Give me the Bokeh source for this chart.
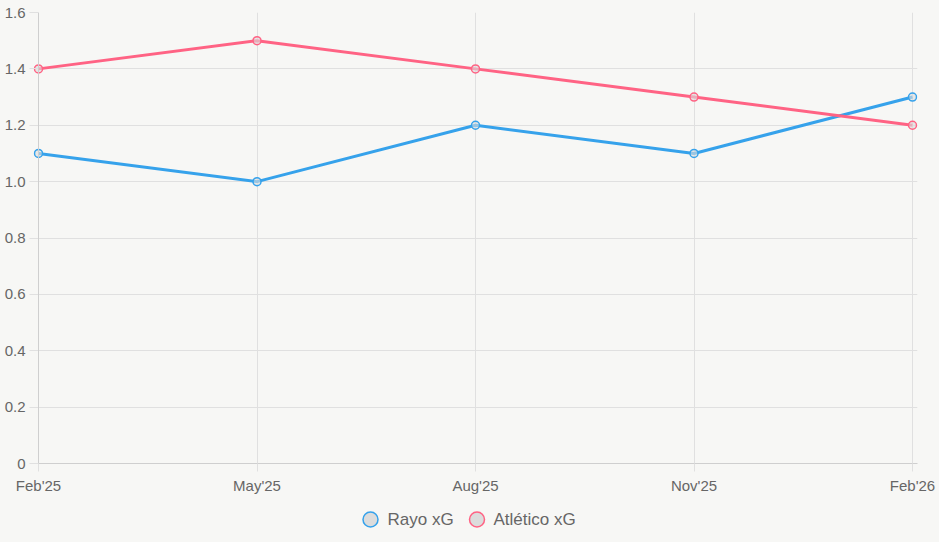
from bokeh.plotting import figure
from bokeh.layouts import column
from bokeh.models import (ColumnDataSource, FixedTicker, CustomJSTickFormatter,
                          Range1d, Span)
from bokeh.core.properties import value
from bokeh.embed import file_html
from bokeh.resources import INLINE

# Quarterly expected goals
months = ["Feb'25", "May'25", "Aug'25", "Nov'25", "Feb'26"]
series_names = ["Rayo xG", "Atlético xG"]
rayo_xg = [1.1, 1.0, 1.2, 1.1, 1.3]
atletico_xg = [1.4, 1.5, 1.4, 1.3, 1.2]
y_ticks = [0, 0.2, 0.4, 0.6, 0.8, 1.0, 1.2, 1.4, 1.6]

RAYO = "#36A2EB"
ATLETICO = "#FF6384"
COLORS = [RAYO, ATLETICO]
BG = "#f7f7f5"
GRID = "#e0e0e0"
AXIS = "#cfcfcf"
TEXT = "#666666"
FONT = "Liberation Sans"
SWATCH_FILL = "#dcdcdc"

W = 939
MAIN_H = 500
LEG_H = 42

xs = list(range(len(months)))
src = ColumnDataSource(dict(x=xs, rayo=rayo_xg, atl=atletico_xg))

# a few pixels of room on each side so the end markers are not cut by the frame
EDGE_PX = 5
BORDER_L = 38 - EDGE_PX
BORDER_R = 27 - EDGE_PX
inner_w = 874
pad = EDGE_PX * (len(months) - 1) / inner_w

p = figure(width=W, height=MAIN_H, output_backend="svg", toolbar_location=None,
           x_range=Range1d(-pad, len(months) - 1 + pad), y_range=Range1d(0, 1.6),
           background_fill_color=BG, border_fill_color=BG,
           min_border_left=BORDER_L, min_border_right=BORDER_R,
           min_border_top=12, min_border_bottom=37)
p.outline_line_color = None

p.xgrid.grid_line_color = GRID
p.ygrid.grid_line_color = GRID
p.add_layout(Span(location=0, dimension="height", line_color=AXIS, line_width=1))

for c, col in zip(COLORS, ("rayo", "atl")):
    p.line("x", col, source=src, line_color=c, line_width=3)
    p.scatter("x", col, source=src, size=8, fill_color=SWATCH_FILL, fill_alpha=0.6,
              line_color=c, line_width=1.5)

# axes
p.xaxis.ticker = FixedTicker(ticks=xs)
p.xaxis.major_label_overrides = {i: m for i, m in enumerate(months)}
p.xaxis.axis_line_color = AXIS
p.xaxis.major_tick_out = 8
p.xaxis.major_tick_in = 0
p.xaxis.major_label_standoff = 5

p.yaxis.ticker = FixedTicker(ticks=y_ticks)
p.yaxis.formatter = CustomJSTickFormatter(code="return tick === 0 ? '0' : tick.toFixed(1);")
p.yaxis.axis_line_color = None
p.yaxis.major_tick_out = 4
p.yaxis.major_tick_in = EDGE_PX
p.yaxis.major_label_standoff = 4

for ax in (p.xaxis[0], p.yaxis[0]):
    ax.major_tick_line_color = GRID
    ax.minor_tick_line_color = None
    ax.major_label_text_color = TEXT
    ax.major_label_text_font = FONT
    ax.major_label_text_font_size = "15px"

# legend strip underneath; the column lines its frame up with the chart's frame,
# so its x range is expressed in page pixels across that same span
leg = figure(width=W, height=LEG_H, output_backend="svg",
             toolbar_location=None, title=None,
             x_range=Range1d(BORDER_L, W - BORDER_R), y_range=Range1d(0, LEG_H),
             x_axis_location=None, y_axis_location=None,
             background_fill_color=BG, border_fill_color=BG,
             min_border_left=0, min_border_right=0,
             min_border_top=0, min_border_bottom=0, outline_line_color=None)
leg.grid.visible = False

swatch_x = [370, 476.5]
label_x = [387, 493]
mid = LEG_H - 19
leg.scatter(x=swatch_x, y=[mid] * 2, size=15, fill_color=SWATCH_FILL,
            line_color=COLORS, line_width=1.5)
leg.text(x=label_x, y=[mid] * 2, text=series_names, text_font=value(FONT),
         text_font_size="17px", text_color=TEXT, text_baseline="middle",
         text_align="left")

layout = column(p, leg, spacing=0, styles={"background-color": BG})
open("out.html", "w").write(file_html(layout, INLINE))
